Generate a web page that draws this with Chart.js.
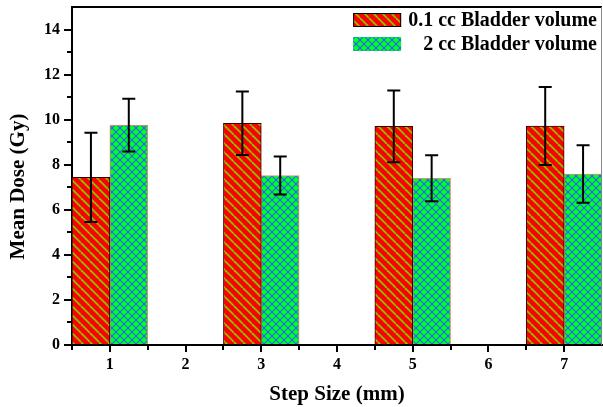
<!DOCTYPE html>
<html><head><meta charset="utf-8">
<script src="https://cdn.jsdelivr.net/npm/chart.js@4.4.0/dist/chart.umd.min.js"></script>
<style>html,body{margin:0;padding:0;background:#fff;} canvas{display:block;}</style>
</head><body>
<canvas id="c" width="603" height="407"></canvas>
<script>
// ---- data ----
const stepSizes = [1, 3, 5, 7];
const seriesLabels = ['0.1 cc Bladder volume', '2 cc Bladder volume'];
const dose01 = [7.44, 9.84, 9.70, 9.72];
const err01  = [1.98, 1.41, 1.59, 1.73];
const dose2  = [9.76, 7.52, 7.40, 7.59];
const err2   = [1.17, 0.84, 1.02, 1.28];
const xTickValues = [1, 2, 3, 4, 5, 6, 7];
const yTickValues = [0, 2, 4, 6, 8, 10, 12, 14];
const xMinorTicks = [0.5, 1.5, 2.5, 3.5, 4.5, 5.5, 6.5];
const yMinorTicks = [1, 3, 5, 7, 9, 11, 13];
const xTitle = 'Step Size (mm)';
const yTitle = 'Mean Dose (Gy)';

const FONT = "'Liberation Serif', 'Times New Roman', serif";

function makeStripePattern() {
  const s = 9, c = document.createElement('canvas');
  c.width = s; c.height = s;
  const g = c.getContext('2d');
  g.fillStyle = '#ff0000'; g.fillRect(0, 0, s, s);
  g.strokeStyle = '#86c400'; g.lineWidth = 1.8;
  for (const o of [-s, 0, s]) {
    g.beginPath(); g.moveTo(o, 0); g.lineTo(o + s, s); g.stroke();
  }
  return g.createPattern(c, 'repeat');
}
function makeCrossPattern() {
  const s = 8, c = document.createElement('canvas');
  c.width = s; c.height = s;
  const g = c.getContext('2d');
  g.fillStyle = '#00ff22'; g.fillRect(0, 0, s, s);
  g.strokeStyle = '#2a5cff'; g.lineWidth = 1.1;
  for (const o of [-s, 0, s]) {
    g.beginPath(); g.moveTo(o, 0); g.lineTo(o + s, s); g.stroke();
    g.beginPath(); g.moveTo(o, s); g.lineTo(o + s, 0); g.stroke();
  }
  return g.createPattern(c, 'repeat');
}

const redPat = makeStripePattern();
const greenPat = makeCrossPattern();
const errs = [err01, err2];

const bgPlugin = {
  id: 'bg',
  beforeDraw(chart) {
    const ctx = chart.ctx;
    ctx.save(); ctx.fillStyle = '#fff'; ctx.fillRect(0, 0, chart.width, chart.height); ctx.restore();
  }
};

const framePlugin = {
  id: 'frame',
  afterDraw(chart) {
    const {ctx, chartArea: a, scales} = chart;
    ctx.save();
    ctx.strokeStyle = '#000'; ctx.lineWidth = 2;
    ctx.beginPath(); ctx.moveTo(a.left - 1, a.top); ctx.lineTo(a.right, a.top); ctx.stroke();
    ctx.strokeStyle = '#888'; ctx.lineWidth = 1;
    ctx.beginPath(); ctx.moveTo(a.right - 0.5, a.top); ctx.lineTo(a.right - 0.5, a.bottom); ctx.stroke();
    ctx.strokeStyle = '#000'; ctx.lineWidth = 2;
    for (const v of yMinorTicks) {
      const y = Math.round(scales.y.getPixelForValue(v));
      ctx.beginPath(); ctx.moveTo(a.left - 5, y); ctx.lineTo(a.left, y); ctx.stroke();
    }
    for (const v of xMinorTicks) {
      const x = Math.round(scales.x.getPixelForValue(v));
      ctx.beginPath(); ctx.moveTo(x, a.bottom); ctx.lineTo(x, a.bottom + 5); ctx.stroke();
    }
    ctx.restore();
  }
};

const errorBarPlugin = {
  id: 'errbars',
  afterDatasetsDraw(chart) {
    const ctx = chart.ctx, ys = chart.scales.y;
    ctx.save();
    ctx.strokeStyle = '#000'; ctx.lineWidth = 2;
    chart.data.datasets.forEach((ds, di) => {
      const meta = chart.getDatasetMeta(di);
      meta.data.forEach((bar, i) => {
        const v = ds.data[i].y, e = errs[di][i];
        const x = bar.x;
        const yT = ys.getPixelForValue(v + e), yB = ys.getPixelForValue(v - e);
        const cw = 6.5;
        ctx.beginPath();
        ctx.moveTo(x, yT); ctx.lineTo(x, yB);
        ctx.moveTo(x - cw, yT); ctx.lineTo(x + cw, yT);
        ctx.moveTo(x - cw, yB); ctx.lineTo(x + cw, yB);
        ctx.stroke();
      });
    });
    ctx.restore();
  }
};

const legendPlugin = {
  id: 'customLegend',
  afterDraw(chart) {
    const {ctx, chartArea: a} = chart;
    ctx.save();
    ctx.font = 'bold 20px ' + FONT;
    const right = a.right - 5;
    const widths = chart.data.datasets.map(d => ctx.measureText(d.label).width);
    const maxW = Math.max(...widths);
    const boxW = 48, boxH = 14, gap = 7;
    const boxX = right - maxW - gap - boxW;
    const rows = [a.top + 13, a.top + 37];
    chart.data.datasets.forEach((ds, i) => {
      const cy = rows[i];
      ctx.fillStyle = ds.backgroundColor;
      ctx.fillRect(boxX, cy - boxH / 2, boxW, boxH);
      if (i === 0) {
        ctx.strokeStyle = '#000'; ctx.lineWidth = 1;
        ctx.strokeRect(boxX + 0.5, cy - boxH / 2 + 0.5, boxW - 1, boxH - 1);
      }
      ctx.fillStyle = '#000';
      ctx.textAlign = 'right'; ctx.textBaseline = 'middle';
      ctx.fillText(ds.label, right, cy + 1);
    });
    ctx.restore();
  }
};

new Chart(document.getElementById('c'), {
  type: 'bar',
  data: {
    datasets: [
      {
        label: seriesLabels[0],
        data: stepSizes.map((x, i) => ({x, y: dose01[i]})),
        backgroundColor: redPat,
        borderColor: '#3a0000',
        borderWidth: 1
      },
      {
        label: seriesLabels[1],
        data: stepSizes.map((x, i) => ({x, y: dose2[i]})),
        backgroundColor: greenPat,
        borderColor: 'rgba(220,90,40,0.7)',
        borderWidth: 1
      }
    ]
  },
  options: {
    responsive: false,
    animation: false,
    devicePixelRatio: 1,
    layout: {padding: {top: 7, right: 1, left: 0, bottom: 0}},
    datasets: {bar: {categoryPercentage: 1.0, barPercentage: 1.0}},
    plugins: {legend: {display: false}, tooltip: {enabled: false}},
    scales: {
      x: {
        type: 'linear',
        min: 0.5, max: 7.5,
        offset: false,
        afterBuildTicks(s) { s.ticks = xTickValues.map(v => ({value: v})); },
        grid: {offset: false, drawOnChartArea: false, drawTicks: true, tickLength: 7, lineWidth: 2, color: '#000', tickColor: '#000'},
        border: {display: true, color: '#000', width: 2},
        ticks: {autoSkip: false, maxRotation: 0, padding: 3, color: '#000',
          font: {family: FONT, size: 16, weight: 'bold'}},
        title: {display: true, text: xTitle, color: '#000', padding: {top: 0, bottom: 0},
          font: {family: FONT, size: 21, weight: 'bold'}},
        afterFit(s) { s.height = 62; s.paddingLeft = 0; s.paddingRight = 0; }
      },
      y: {
        type: 'linear',
        min: 0, max: 15,
        afterBuildTicks(s) { s.ticks = yTickValues.map(v => ({value: v})); },
        grid: {drawOnChartArea: false, drawTicks: true, tickLength: 8, lineWidth: 2, color: '#000', tickColor: '#000'},
        border: {display: true, color: '#000', width: 2},
        ticks: {padding: 4, color: '#000',
          font: {family: FONT, size: 16, weight: 'bold'}},
        title: {display: true, text: yTitle + '\u00A0\u00A0\u00A0\u00A0', color: '#000', padding: {top: 6, bottom: 0},
          font: {family: FONT, size: 21, weight: 'bold'}},
        afterFit(s) { s.width = 72; s.paddingTop = 0; s.paddingBottom = 0; }
      }
    }
  },
  plugins: [bgPlugin, errorBarPlugin, framePlugin, legendPlugin]
});
</script>
</body></html>
